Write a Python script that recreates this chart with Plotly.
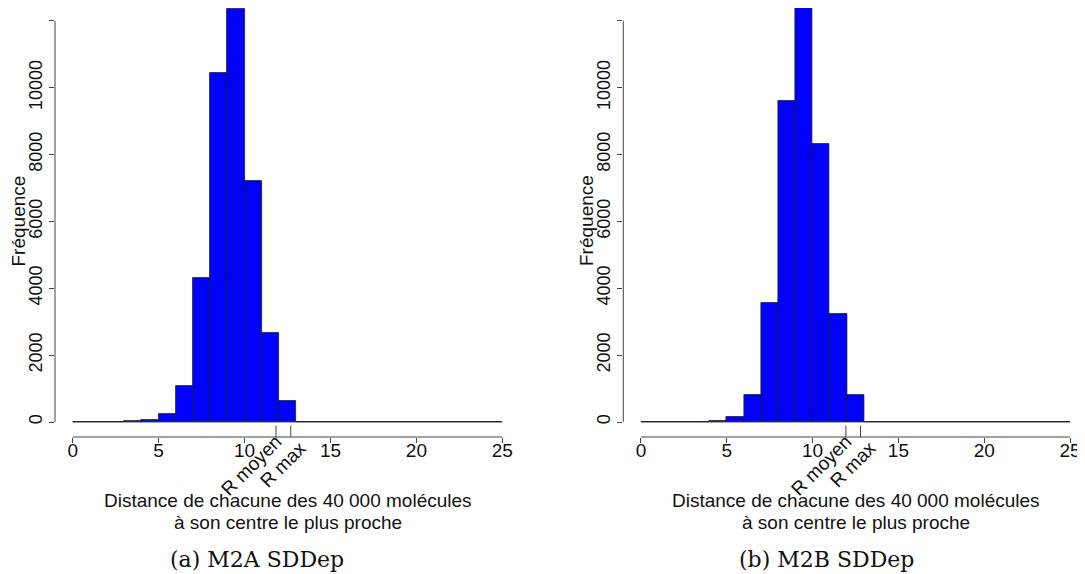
import plotly.graph_objects as go

# ---- data -----------------------------------------------------------------
bin_edges = list(range(0, 26))          # histogram breaks 0..25, width 1
bin_centers = [e + 0.5 for e in bin_edges[:-1]]

counts_a = [0, 2, 5, 20, 70, 250, 1078, 4320, 10450, 12345, 7206, 2675, 629,
            0, 0, 0, 0, 0, 0, 0, 0, 0, 0, 0, 0]
counts_b = [0, 1, 3, 10, 30, 150, 808, 3569, 9611, 12432, 8315, 3240, 818,
            0, 0, 0, 0, 0, 0, 0, 0, 0, 0, 0, 0]

r_marks_a = [11.83, 12.69]
r_marks_b = [11.94, 12.79]
r_labels = ["R moyen", "R max"]

x_ticks = [0, 5, 10, 15, 20, 25]
y_ticks = [0, 2000, 4000, 6000, 8000, 10000, 12000]
y_ticktext = ["0", "2000", "4000", "6000", "8000", "10000", ""]

x_title_lines = ["Distance de chacune des 40 000 molécules", "à son centre le plus proche"]
y_title = "Fréquence"
captions = ["(a) M2A SDDep", "(b) M2B SDDep"]

# ---- layout helpers (reference pixel coords; page body has an 8px margin) --
OFF = 8
W, H = 1085 - OFF, 574 - OFF
PLOT_BOTTOM = 437 - OFF          # pixel row of the x axis line
PLOT_H = PLOT_BOTTOM             # plot area from fig top to axis


def px_x(x):
    return (x - OFF) / W


def px_y(y):
    return (PLOT_BOTTOM - (y - OFF)) / PLOT_H


SANS = "Liberation Sans, Arial, Helvetica, sans-serif"
SERIF = "DejaVu Serif, Liberation Serif, serif"
AXC = "#444444"
TXT = "#111111"
FS = 19

# y scale: 2000 units per 66.87 px; axis line (y=-449) at px 437
PXU = 66.87 / 2000
y_lo = -(437 - 422) / PXU
y_hi = y_lo + PLOT_H / PXU

panels = [
    dict(counts=counts_a, marks=r_marks_a, xa="x", ya="y",
         dom=[px_x(55), px_x(507.5)], ylab=18.5, cap=256.5),
    dict(counts=counts_b, marks=r_marks_b, xa="x2", ya="y2",
         dom=[px_x(623.3), px_x(1075.2)], ylab=587, cap=826),
]
label_shift = [(-25, -28), (-8, -27)]

fig = go.Figure()
shapes, annotations = [], []

for i, p in enumerate(panels):
    sfx = "" if i == 0 else "2"
    fig.add_trace(go.Bar(
        x=bin_centers, y=p["counts"], width=1,
        marker=dict(color="#0000FF", line=dict(color="#1a1a1a", width=0.8)),
        xaxis=p["xa"], yaxis=p["ya"], showlegend=False, hoverinfo="x+y",
    ))
    # baseline for all (including empty) bins
    shapes.append(dict(type="line", xref=p["xa"], yref=p["ya"],
                       x0=bin_edges[0], x1=bin_edges[-1], y0=0, y1=0,
                       line=dict(color="#999999", width=1.6), layer="below"))
    # x axis line (0..25)
    shapes.append(dict(type="line", xref=p["xa"], yref="paper",
                       x0=x_ticks[0], x1=x_ticks[-1], y0=0, y1=0,
                       line=dict(color=AXC, width=1)))
    # y axis line (0..12000)
    shapes.append(dict(type="line", xref=p["xa"] + " domain", yref=p["ya"],
                       x0=0, x1=0, y0=y_ticks[0], y1=y_ticks[-1],
                       line=dict(color=AXC, width=1)))
    # R moyen / R max marks
    for (xv, lab), (dx, dy) in zip(zip(p["marks"], r_labels), label_shift):
        shapes.append(dict(type="line", xref=p["xa"], yref="paper",
                           x0=xv, x1=xv, y0=0, y1=11.5 / PLOT_H,
                           line=dict(color=AXC, width=1)))
        annotations.append(dict(x=xv, y=0, xref=p["xa"], yref="paper",
                                xshift=dx, yshift=dy,
                                text=lab, textangle=-45, showarrow=False,
                                xanchor="center", yanchor="middle",
                                font=dict(family=SANS, size=FS, color=TXT)))
    # x axis title, two lines
    for line_txt, ypx in zip(x_title_lines, [500, 522]):
        annotations.append(dict(x=12.5, y=px_y(ypx), xref=p["xa"], yref="paper",
                                text=line_txt, showarrow=False,
                                xanchor="center", yanchor="middle",
                                font=dict(family=SANS, size=FS, color=TXT)))
    # y axis title
    annotations.append(dict(x=px_x(p["ylab"]), y=px_y(221),
                            xref="paper", yref="paper", text=y_title, textangle=-90,
                            showarrow=False, xanchor="center", yanchor="middle",
                            font=dict(family=SANS, size=FS, color=TXT)))
    # caption
    annotations.append(dict(x=px_x(p["cap"]), y=px_y(559),
                            xref="paper", yref="paper", text=captions[i],
                            showarrow=False, xanchor="center", yanchor="middle",
                            font=dict(family=SERIF, size=22, color=TXT)))

    axis_common = dict(showgrid=False, zeroline=False, showline=False,
                       ticks="outside", ticklen=5, tickcolor=AXC, tickwidth=1)
    fig.update_layout(**{
        "xaxis" + sfx: dict(domain=p["dom"], range=[-1.03, 25.3],
                            tickmode="array", tickvals=x_ticks,
                            ticktext=[str(t) for t in x_ticks],
                            ticklabelstandoff=-9,
                            tickfont=dict(family=SANS, size=19, color=TXT),
                            anchor="y" + sfx, **axis_common),
        "yaxis" + sfx: dict(domain=[0, 1], range=[y_lo, y_hi],
                            tickmode="array", tickvals=y_ticks, ticktext=y_ticktext,
                            tickangle=-90,
                            tickfont=dict(family=SANS, size=18, color=TXT),
                            anchor="x" + sfx, **axis_common),
    })

fig.update_layout(
    width=W, height=H,
    margin=dict(l=0, r=0, t=0, b=H - PLOT_H, autoexpand=False),
    paper_bgcolor="white", plot_bgcolor="white",
    bargap=0, shapes=shapes, annotations=annotations,
    showlegend=False,
)

fig.write_html("out.html")
